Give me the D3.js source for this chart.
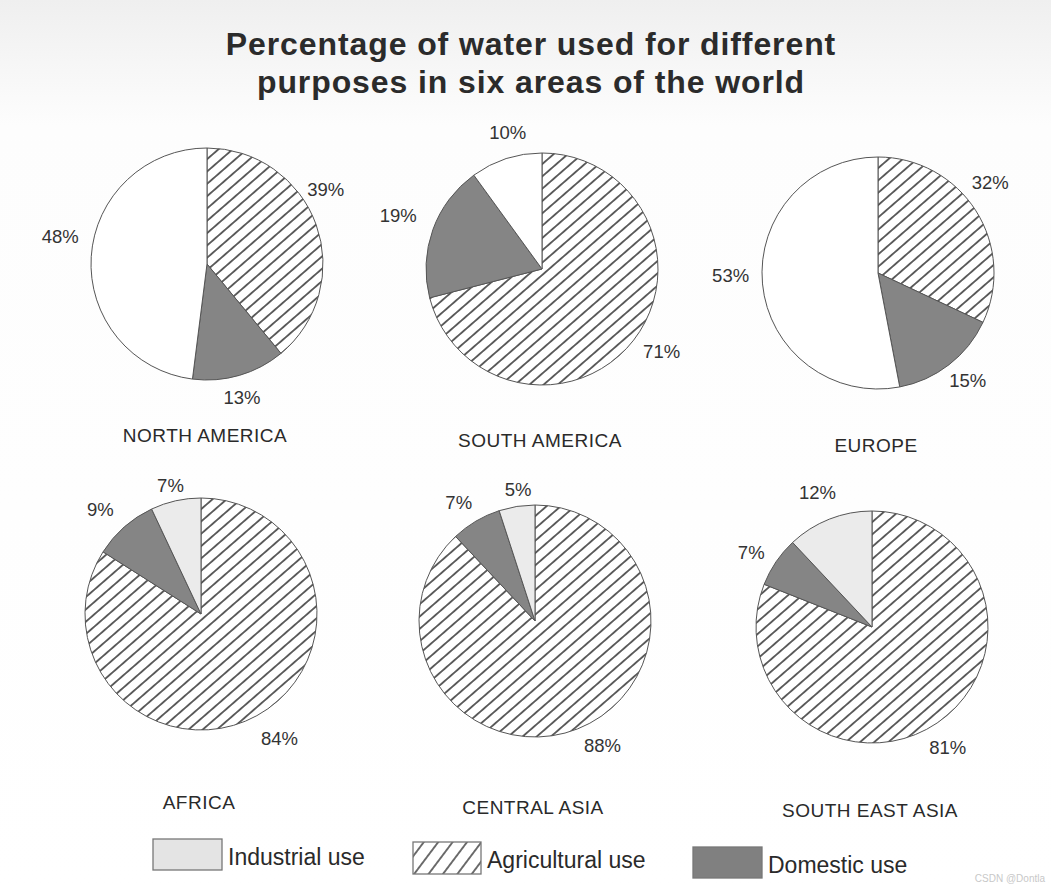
<!DOCTYPE html>
<html>
<head>
<meta charset="utf-8">
<script src="https://cdn.jsdelivr.net/npm/d3@7"></script>
<style>
html,body{margin:0;padding:0;background:#fff;}
svg{display:block;}
</style>
</head>
<body>
<div id="chart"></div>
<script>
// ---- data ----
const regions = ["NORTH AMERICA","SOUTH AMERICA","EUROPE","AFRICA","CENTRAL ASIA","SOUTH EAST ASIA"];
const agricultural = [39, 71, 32, 84, 88, 81];
const domestic     = [13, 19, 15, 9, 7, 7];
const industrial   = [48, 10, 53, 7, 5, 12];
const categories = ["Agricultural use", "Domestic use", "Industrial use"];
const legendOrder = ["Industrial use", "Agricultural use", "Domestic use"];
const titleLines = ["Percentage of water used for different", "purposes in six areas of the world"];

// ---- layout ----
const W = 1051, H = 892, R = 116;
const centers = [[207,264],[542,269],[878,273],[201,614],[535,621],[872,627]];
const nameDy = [171,171,172,188,186,183];
// label nudges [chart][slice] (agri, dom, ind)
const nudges = [
  [[-13,-27],[-4,-1],[-7,-19]],
  [[9,-3],[-12,-6],[9,-3]],
  [[-6,-15],[4,-3],[-8,-11]],
  [[11,2],[-8,1],[0,8]],
  [[16,-6],[-5,2],[5,7]],
  [[-3,5],[-5,4],[-3,-4]]
];

const svg = d3.select("#chart").append("svg").attr("width", W).attr("height", H)
  .style("font-family", "'Liberation Sans', Arial, sans-serif");

const defs = svg.append("defs");
function hatch(id, gap, angle, sw) {
  const p = defs.append("pattern").attr("id", id).attr("patternUnits","userSpaceOnUse")
    .attr("width", 20).attr("height", gap).attr("patternTransform", `rotate(${angle})`);
  p.append("rect").attr("width", 20).attr("height", gap).attr("fill", "#fff");
  p.append("line").attr("x1", 0).attr("x2", 20).attr("y1", gap/2).attr("y2", gap/2)
    .attr("stroke", "#222").attr("stroke-width", sw);
}
hatch("hatch", 9.3, -41, 1.4);
hatch("hatchLegend", 11.5, -53, 1.3);

const bg = defs.append("linearGradient").attr("id","bg").attr("x1",0).attr("y1",0).attr("x2",0).attr("y2",1);
bg.append("stop").attr("offset","0").attr("stop-color","#efefef");
bg.append("stop").attr("offset","0.14").attr("stop-color","#fdfdfd");
bg.append("stop").attr("offset","1").attr("stop-color","#ffffff");
svg.append("rect").attr("width",W).attr("height",H).attr("fill","url(#bg)");

// title
svg.append("g").selectAll("text").data(titleLines).join("text")
  .attr("x", 531).attr("y", (d,i) => 55 + i*38)
  .attr("text-anchor","middle").attr("font-size", 32).attr("font-weight","bold")
  .attr("letter-spacing", 0.9)
  .attr("fill","#2b2b2b").text(d => d);

const pie = d3.pie().sort(null).value(d => d.v);
const arc = d3.arc().innerRadius(0).outerRadius(R);
const labelArc = d3.arc().innerRadius(140).outerRadius(140);

const industrialFill = i => i < 3 ? "#ffffff" : "#ebebeb";
const fills = (cat, i) => cat === "Agricultural use" ? "url(#hatch)" : cat === "Domestic use" ? "#858585" : industrialFill(i);

regions.forEach((name, i) => {
  const vals = [
    {cat: categories[0], v: agricultural[i]},
    {cat: categories[1], v: domestic[i]},
    {cat: categories[2], v: industrial[i]}
  ];
  const g = svg.append("g").attr("transform", `translate(${centers[i][0]},${centers[i][1]})`);
  const arcs = pie(vals);
  g.selectAll("path").data(arcs).join("path")
    .attr("d", arc)
    .attr("fill", d => fills(d.data.cat, i))
    .attr("stroke", "#555").attr("stroke-width", 1);
  g.selectAll("text.pct").data(arcs).join("text").attr("class","pct")
    .attr("x", (d,j) => labelArc.centroid(d)[0] + nudges[i][j][0])
    .attr("y", (d,j) => labelArc.centroid(d)[1] + nudges[i][j][1])
    .attr("dy","0.35em").attr("text-anchor","middle")
    .attr("font-size", 18.5).attr("fill","#333")
    .text(d => d.data.v + "%");
  g.append("text").attr("x", -2).attr("y", nameDy[i]).attr("dy","0.35em")
    .attr("text-anchor","middle").attr("font-size", 19).attr("letter-spacing", 0.5)
    .attr("fill","#2a2a2a")
    .text(name);
});

// legend
const legendBox = [[153,839,69,31],[413,842,68,32],[693,847,69,31]];
const lg = svg.append("g");
legendOrder.forEach((cat, k) => {
  const [x, y, w, h] = legendBox[k];
  lg.append("rect").attr("x", x).attr("y", y).attr("width", w).attr("height", h)
    .attr("fill", cat === "Industrial use" ? "#e4e4e4" : cat === "Agricultural use" ? "url(#hatchLegend)" : "#808080")
    .attr("stroke", "#777").attr("stroke-width", 1.3);
  lg.append("text").attr("x", x + w + 6).attr("y", y + h/2 + 2).attr("dy","0.35em")
    .attr("font-size", 23).attr("fill","#2a2a2a").text(cat);
});

svg.append("text").attr("x", 1045).attr("y", 882).attr("text-anchor","end")
  .attr("font-size", 10).attr("fill","#c8c8c8").text("CSDN @Dontla");
</script>
</body>
</html>
